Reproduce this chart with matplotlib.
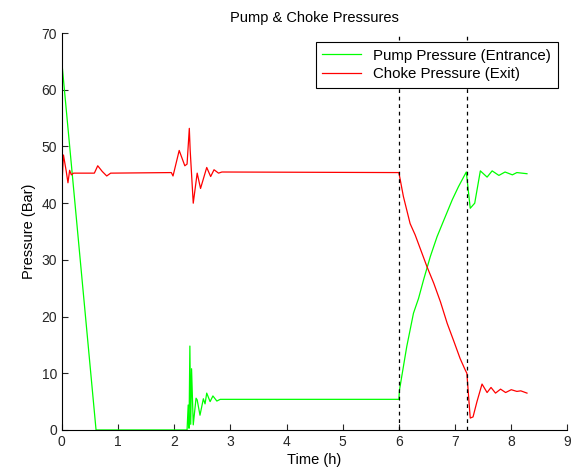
import matplotlib
matplotlib.use("Agg")
import matplotlib.pyplot as plt

plt.rcParams["font.family"] = ["Liberation Sans", "DejaVu Sans"]

# pump pressure (entrance)
pump_t = [0.0, 0.61, 2.23, 2.25, 2.265, 2.28, 2.295, 2.31, 2.34, 2.39, 2.41,
          2.46, 2.52, 2.55, 2.58, 2.64, 2.69, 2.76, 2.82, 6.0, 6.01, 6.14,
          6.26, 6.35, 6.44, 6.56, 6.68, 6.80, 6.95, 7.06, 7.20, 7.27, 7.35,
          7.45, 7.57, 7.66, 7.78, 7.89, 8.02, 8.10, 8.28]
pump_p = [65.0, 0.0, 0.0, 4.4, 0.3, 14.8, 1.0, 10.8, 0.9, 5.6, 5.3,
          2.6, 5.5, 4.6, 6.5, 5.0, 6.0, 5.1, 5.4, 5.4, 7.0, 14.7,
          20.6, 23.2, 26.5, 30.6, 34.1, 37.0, 40.6, 42.9, 45.5, 39.1, 40.0,
          45.7, 44.6, 45.7, 44.9, 45.5, 45.0, 45.4, 45.2]

# choke pressure (exit)
choke_t = [0.0, 0.03, 0.08, 0.11, 0.14, 0.17, 0.21, 0.58, 0.64, 0.72, 0.80,
           0.87, 1.95, 1.98, 2.09, 2.19, 2.23, 2.27, 2.285, 2.34, 2.41, 2.47,
           2.58, 2.65, 2.71, 2.79, 2.85, 6.0, 6.08, 6.20, 6.29, 6.41, 6.50,
           6.62, 6.74, 6.86, 6.98, 7.09, 7.18, 7.21, 7.27, 7.32, 7.39, 7.48,
           7.57, 7.64, 7.72, 7.81, 7.90, 8.00, 8.10, 8.17, 8.28]
choke_p = [42.7, 48.5, 45.6, 43.6, 45.8, 45.0, 45.3, 45.3, 46.6, 45.6, 44.8,
           45.3, 45.4, 44.8, 49.3, 46.6, 46.9, 53.2, 49.4, 40.0, 45.3, 42.6,
           46.3, 44.7, 45.9, 45.3, 45.5, 45.4, 41.2, 36.4, 34.4, 31.2, 28.8,
           25.9, 22.6, 18.8, 15.6, 12.6, 10.6, 10.0, 2.1, 2.3, 5.0, 8.1,
           6.6, 7.5, 6.5, 7.2, 6.6, 7.1, 6.8, 6.9, 6.5]

event_times = [6.0, 7.21]

fig = plt.figure(figsize=(5.72, 4.73), dpi=100)
ax = fig.add_axes([0.108, 0.091, 0.884, 0.839])

ax.plot(pump_t, pump_p, color="#00ff00", linewidth=0.9, label="Pump Pressure (Entrance)")
ax.plot(choke_t, choke_p, color="#ff0000", linewidth=0.9, label="Choke Pressure (Exit)")
for t in event_times:
    ax.axvline(t, color="black", linewidth=0.9, linestyle=(0, (3, 3)))

ax.set_xlim(0, 9)
ax.set_ylim(0, 70)
ax.set_xticks(range(0, 10))
ax.set_yticks(range(0, 71, 10))
ax.spines["top"].set_visible(False)
ax.spines["right"].set_visible(False)
ax.tick_params(direction="in", length=4, labelsize=10, colors="#262626")
ax.set_xlabel("Time (h)", fontsize=10.5, labelpad=3)
ax.set_ylabel("Pressure (Bar)", fontsize=10.5)
ax.set_title("Pump & Choke Pressures", fontsize=10.5, pad=8)

leg = ax.legend(loc="upper right", bbox_to_anchor=(0.996, 0.997), fontsize=10.8,
                fancybox=False, framealpha=1, edgecolor="black",
                handlelength=2.6, borderpad=0.45, labelspacing=0.3)
leg.get_frame().set_linewidth(0.8)

fig.savefig("out.png", dpi=100)
